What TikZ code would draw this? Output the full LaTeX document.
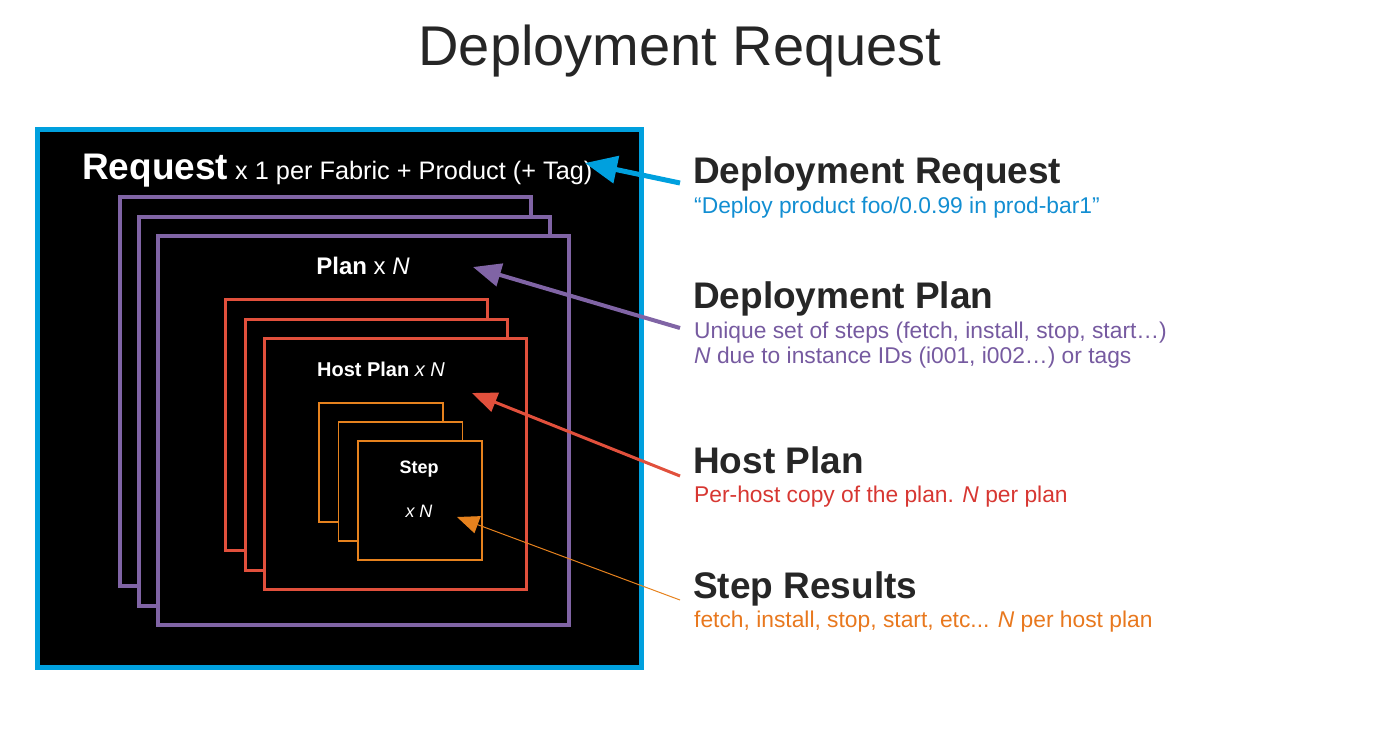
\documentclass[tikz,border=0pt]{standalone}
\usepackage{fontspec}
\setmainfont{Liberation Sans}
\usepackage{xcolor}
\definecolor{headgray}{RGB}{38,38,38}
\definecolor{reqblue}{RGB}{0,160,222}
\definecolor{reqtext}{RGB}{18,142,210}
\definecolor{planpurple}{RGB}{128,100,165}
\definecolor{plantext}{RGB}{118,90,160}
\definecolor{hostred}{RGB}{225,80,60}
\definecolor{hosttext}{RGB}{215,55,50}
\definecolor{steporange}{RGB}{230,130,30}
\definecolor{steptext}{RGB}{232,120,30}
\usepackage{tikz}
\usetikzlibrary{arrows.meta}
\newcommand{\fsz}[1]{\fontsize{#1}{#1}\selectfont}
\tikzset{
    stack/.style={draw, fill=black, rectangle, inner sep=0pt, anchor=north west},
    reqbox/.style={stack, draw=reqblue, line width=5pt, minimum width=604, minimum height=538},
    planbox/.style={stack, draw=planpurple, line width=4pt, minimum width=411, minimum height=389},
    hostbox/.style={stack, draw=hostred, line width=3pt, minimum width=262, minimum height=251},
    stepbox/.style={stack, draw=steporange, line width=1.5pt, minimum width=124, minimum height=119},
    inlabel/.style={text=white, inner sep=0pt, anchor=base},
    head/.style={anchor=base west, inner sep=0pt, text=headgray, font=\fsz{37}\bfseries},
    sub/.style={anchor=base west, inner sep=0pt, font=\fsz{22.8}},
    pointer/.style={shorten <=0pt}
}

\begin{document}
\begin{tikzpicture}[x=1pt, y=-1pt]
      \useasboundingbox (0,0) rectangle (1383,729);

      \node[anchor=base, inner sep=0pt, text=headgray, font=\fsz{56}] (title) at (680,65) {Deployment Request};

      % nested boxes
      \node[reqbox] (req) at (35,127) {};
      \node[planbox] (plan-a) at (118,195) {};
      \node[planbox] (plan-b) at (137,214.5) {};
      \node[planbox] (plan-c) at (156,234) {};
      \node[hostbox] (host-a) at (224,298) {};
      \node[hostbox] (host-b) at (243.5,317.5) {};
      \node[hostbox] (host-c) at (263,337) {};
      \node[stepbox] (step-a) at (318,402) {};
      \node[stepbox] (step-b) at (337.5,421) {};
      \node[stepbox] (step-c) at (357,440) {};

      \node[inlabel, anchor=base west] (req-label) at (82,179)
          {\fsz{37}\bfseries Request\fsz{25.3}\mdseries{} x 1 per Fabric + Product (+ Tag)};
      \node[inlabel, font=\fsz{24}] (plan-label) at (363,274) {\textbf{Plan} x \textit{N}};
      \node[inlabel, font=\fsz{20}] (host-label) at (381,376) {\textbf{Host Plan} \textit{x N}};
      \node[inlabel, font=\fsz{18}\bfseries] (step-label) at (419,473) {Step};
      \node[inlabel, font=\fsz{18}] (step-count) at (419,517) {\textit{x N}};

      % legend
      \node[head] (req-head) at (693,183) {Deployment Request};
      \node[sub, text=reqtext] (req-sub) at (694,213) {“Deploy product foo/0.0.99 in prod-bar1”};
      \node[head] (plan-head) at (693,308) {Deployment Plan};
      \node[sub, text=plantext] (plan-sub-a) at (694,338) {Unique set of steps (fetch, install, stop, start…)};
      \node[sub, text=plantext] (plan-sub-b) at (694,363) {\textit{N} due to instance IDs (i001, i002…) or tags};
      \node[head] (host-head) at (693,473) {Host Plan};
      \node[sub, text=hosttext] (host-sub) at (694,502) {Per-host copy of the plan. \textit{N} per plan};
      \node[head] (step-head) at (693,598) {Step Results};
      \node[sub, text=steptext] (step-sub) at (694,627) {fetch, install, stop, start, etc... \textit{N} per host plan};

      \coordinate (req-tip) at (585,163);
      \coordinate (plan-tip) at (473,267);
      \coordinate (host-tip) at (472,393);
      \coordinate (step-tip) at (457,517);

      \draw[pointer, reqblue, line width=5pt, -{Triangle[length=32pt, width=27pt]}]
          ([xshift=-13pt]req-head.base west) -- (req-tip);
      \draw[pointer, planpurple, line width=4pt, -{Triangle[length=28pt, width=23pt]}]
          ([xshift=-13pt, yshift=-20pt]plan-head.base west) -- (plan-tip);
      \draw[pointer, hostred, line width=3pt, -{Triangle[length=25pt, width=20pt]}]
          ([xshift=-13pt, yshift=-3pt]host-head.base west) -- (host-tip);
      \draw[pointer, steporange, line width=1pt, -{Triangle[length=22pt, width=18pt]}]
          ([xshift=-13pt, yshift=-2pt]step-head.base west) -- (step-tip);
  \end{tikzpicture}
\end{document}
